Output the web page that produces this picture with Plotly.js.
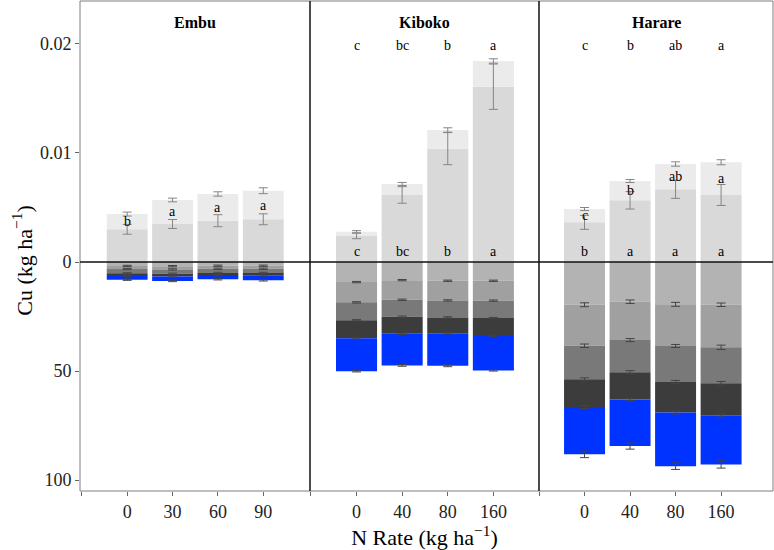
<!DOCTYPE html>
<html>
<head>
<meta charset="utf-8">
<script src="https://cdn.plot.ly/plotly-3.0.1.min.js"></script>
<style>html,body{margin:0;padding:0;background:#fff}#chart{width:774px;height:550px}</style>
</head>
<body>
<div id="chart"></div>
<script>
// ---------- DATA ----------
const panelNames = ['Embu', 'Kiboko', 'Harare'];
const embuRates = ['0', '30', '60', '90'];
const kibokoRates = ['0', '40', '80', '160'];
const harareRates = ['0', '40', '80', '160'];

// Upper part (Cu, kg/ha): lower stacked piece and bar total
const embuUpperBase = [0.00300, 0.00349, 0.00379, 0.00392];
const embuUpperBaseErr = [0.00045, 0.00041, 0.00055, 0.00050];
const embuUpperTotal = [0.00440, 0.00569, 0.00624, 0.00654];
const embuUpperTotalErr = [0.00018, 0.00017, 0.00020, 0.00027];

const kibokoUpperBase = [0.00239, 0.00615, 0.01040, 0.01608];
const kibokoUpperBaseErr = [0.00025, 0.00076, 0.00147, 0.00208];
const kibokoUpperTotal = [0.00278, 0.00716, 0.01211, 0.01844];
const kibokoUpperTotalErr = [0.00010, 0.00014, 0.00020, 0.00020];

const harareUpperBase = [0.00364, 0.00566, 0.00667, 0.00615];
const harareUpperBaseErr = [0.00064, 0.00080, 0.00083, 0.00096];
const harareUpperTotal = [0.00486, 0.00743, 0.00899, 0.00915];
const harareUpperTotalErr = [0.00014, 0.00014, 0.00020, 0.00023];

// Lower part (Cu, kg/ha): five stacked layers (rows) x N rates (cols)
const embuSoil = [
  [1.8, 1.9, 1.7, 1.7],
  [1.4, 1.5, 1.4, 1.4],
  [2.0, 2.0, 1.9, 1.9],
  [1.2, 1.2, 1.0, 1.1],
  [1.7, 2.1, 1.9, 2.3]
];
const embuSoilErr = [
  [0.3, 0.3, 0.3, 0.3],
  [0.3, 0.3, 0.3, 0.3],
  [0.3, 0.3, 0.3, 0.3],
  [0.3, 0.3, 0.3, 0.3],
  [0.3, 0.3, 0.3, 0.3]
];
const kibokoSoil = [
  [9.2, 8.3, 8.6, 8.6],
  [9.3, 9.0, 9.0, 9.1],
  [8.2, 7.8, 7.8, 8.0],
  [8.3, 7.8, 7.3, 8.2],
  [15.1, 14.5, 14.9, 15.8]
];
const kibokoSoilErr = [
  [0.3, 0.3, 0.3, 0.3],
  [0.3, 0.3, 0.3, 0.3],
  [0.3, 0.3, 0.3, 0.3],
  [0.3, 0.3, 0.3, 0.3],
  [0.3, 0.4, 0.4, 0.3]
];
const harareSoil = [
  [19.6, 18.2, 19.4, 19.6],
  [18.8, 17.6, 19.1, 19.5],
  [15.4, 14.8, 16.5, 16.5],
  [12.7, 12.4, 14.0, 14.7],
  [21.7, 21.4, 24.6, 22.5]
];
const harareSoilErr = [
  [0.9, 0.8, 0.9, 0.8],
  [0.8, 0.7, 0.7, 1.0],
  [0.7, 0.8, 0.7, 0.8],
  [0.7, 0.6, 0.7, 0.8],
  [1.5, 1.4, 1.5, 1.7]
];

// Significance letters
const kibokoTopLetters = ['c', 'bc', 'b', 'a'];
const kibokoBaseLetters = ['c', 'bc', 'b', 'a'];
const embuMidLetters = ['b', 'a', 'a', 'a'];
const harareTopLetters = ['c', 'b', 'ab', 'a'];
const harareMidLetters = ['c', 'b', 'ab', 'a'];
const harareBaseLetters = ['b', 'a', 'a', 'a'];
const letterTopCu = 0.0199;
const letterBaseCu = 0.00094;

// ---------- STYLE ----------
const SCALE = 5000; // upper Cu units -> shared axis units (0.01 <-> 50)
const FONT = '"Liberation Serif", serif';
const upperColors = ['#d9d9d9', '#ebebeb'];
const soilColors = ['#b3b3b3', '#a0a0a0', '#797979', '#3c3c3c', '#0033ff'];
const xpos = [1, 2, 3, 4];

const traces = [];
const annotations = [];

function addPanel(ax, rates, base, baseErr, total, totalErr, soil, soilErr, topL, midL, baseL) {
  const xa = ax === 1 ? 'x' : 'x' + ax;
  traces.push({type: 'bar', x: xpos, y: base.map(v => v * SCALE), xaxis: xa, yaxis: 'y',
    width: 0.9, marker: {color: upperColors[0], line: {width: 0}}, hoverinfo: 'skip'});
  traces.push({type: 'bar', x: xpos, y: total.map((v, i) => (v - base[i]) * SCALE), xaxis: xa, yaxis: 'y',
    width: 0.9, marker: {color: upperColors[1], line: {width: 0}}, hoverinfo: 'skip'});
  soil.forEach((layer, k) => {
    traces.push({type: 'bar', x: xpos, y: layer.map(v => -v), xaxis: xa, yaxis: 'y',
      width: 0.9, marker: {color: soilColors[k], line: {width: 0}}, hoverinfo: 'skip'});
  });
  const eb = (y, e, color) => ({type: 'scatter', mode: 'markers', x: xpos, y: y, xaxis: xa, yaxis: 'y',
    marker: {size: 1, opacity: 0}, hoverinfo: 'skip',
    error_y: {type: 'data', array: e, visible: true, color: color, thickness: 1, width: 4.5}});
  traces.push(eb(base.map(v => v * SCALE), baseErr.map(v => v * SCALE), '#858585'));
  traces.push(eb(total.map(v => v * SCALE), totalErr.map(v => v * SCALE), '#858585'));
  const cum = [0, 0, 0, 0];
  soil.forEach((layer, k) => {
    layer.forEach((v, i) => cum[i] += v);
    traces.push(eb(cum.map(v => -v), soilErr[k], '#444444'));
  });
  const lf = {family: FONT, size: 14, color: '#000'};
  if (topL) topL.forEach((t, i) => annotations.push({xref: xa, yref: 'y', x: xpos[i], y: letterTopCu * SCALE,
    yanchor: 'middle', text: t, showarrow: false, font: lf}));
  if (midL) midL.forEach((t, i) => annotations.push({xref: xa, yref: 'y', x: xpos[i],
    y: (base[i] + total[i]) / 2 * SCALE, yanchor: 'middle', text: t, showarrow: false, font: lf}));
  if (baseL) baseL.forEach((t, i) => annotations.push({xref: xa, yref: 'y', x: xpos[i], y: letterBaseCu * SCALE,
    yanchor: 'middle', text: t, showarrow: false, font: lf}));
}

addPanel(1, embuRates, embuUpperBase, embuUpperBaseErr, embuUpperTotal, embuUpperTotalErr,
  embuSoil, embuSoilErr, null, embuMidLetters, null);
addPanel(2, kibokoRates, kibokoUpperBase, kibokoUpperBaseErr, kibokoUpperTotal, kibokoUpperTotalErr,
  kibokoSoil, kibokoSoilErr, kibokoTopLetters, null, kibokoBaseLetters);
addPanel(3, harareRates, harareUpperBase, harareUpperBaseErr, harareUpperTotal, harareUpperTotalErr,
  harareSoil, harareSoilErr, harareTopLetters, harareMidLetters, harareBaseLetters);

const d1 = 230 / 693, d2 = 459 / 693;
const domains = [[0, d1], [d1, d2], [d2, 1]];
const ranges = [[-0.04, 5.03], [-0.02, 5.0], [0, 5.14]];
const rateSets = [embuRates, kibokoRates, harareRates];

panelNames.forEach((name, p) => {
  annotations.push({xref: 'paper', yref: 'paper', x: (domains[p][0] + domains[p][1]) / 2, y: 0.957,
    xanchor: 'center', yanchor: 'middle',
    text: '<b>' + name + '</b>', showarrow: false, font: {family: FONT, size: 16, color: '#000'}});
});

// y-axis title as rotated paper annotation
annotations.push({xref: 'paper', yref: 'paper', x: -58 / 693, y: 0.47, xanchor: 'center', yanchor: 'middle',
  textangle: -90, text: 'Cu (kg ha<sup>−1</sup>)', showarrow: false, font: {family: FONT, size: 22, color: '#000'}});

const tickFont = {family: FONT, size: 18, color: '#222'};
function xaxisDef(p) {
  return {
    domain: domains[p], range: ranges[p], anchor: 'y',
    tickmode: 'array', tickvals: [1, 2, 3, 4], ticktext: rateSets[p],
    ticks: 'outside', ticklen: 4, tickcolor: '#666', tickwidth: 1,
    minor: {tickmode: 'array', tickvals: [0], ticks: 'outside', ticklen: 4, tickcolor: '#666', tickwidth: 1, showgrid: false},
    showgrid: false, zeroline: false, showline: false, tickfont: tickFont, fixedrange: true
  };
}

const layout = {
  width: 774, height: 550,
  margin: {l: 80, r: 1, t: 1, b: 59},
  paper_bgcolor: '#fff', plot_bgcolor: '#fff',
  barmode: 'relative', bargap: 0.1,
  showlegend: false,
  font: {family: FONT, color: '#000'},
  xaxis: xaxisDef(0),
  xaxis2: Object.assign(xaxisDef(1), {title: {text: 'N Rate (kg ha<sup>−1</sup>)', font: {family: FONT, size: 22, color: '#000'}, standoff: 8}}),
  xaxis3: xaxisDef(2),
  yaxis: {
    range: [-105.0, 119.7], anchor: 'x',
    tickmode: 'array', tickvals: [100, 50, 0, -50, -100], ticktext: ['0.02', '0.01', '0', '50', '100'],
    ticks: 'outside', ticklen: 4, tickcolor: '#666', tickwidth: 1,
    showgrid: false, zeroline: false, showline: false, tickfont: tickFont, fixedrange: true
  },
  annotations: annotations,
  shapes: [
    {type: 'rect', xref: 'paper', yref: 'paper', x0: 0, x1: 1, y0: 0, y1: 1, line: {color: '#7f7f7f', width: 1}, layer: 'above'},
    {type: 'line', xref: 'paper', yref: 'paper', x0: d1, x1: d1, y0: 0, y1: 1, line: {color: '#111', width: 1.5}, layer: 'above'},
    {type: 'line', xref: 'paper', yref: 'paper', x0: d2, x1: d2, y0: 0, y1: 1, line: {color: '#111', width: 1.5}, layer: 'above'},
    {type: 'line', xref: 'paper', yref: 'y', x0: 0, x1: 1, y0: 0, y1: 0, line: {color: '#111', width: 1.5}, layer: 'above'}
  ]
};

Plotly.newPlot('chart', traces, layout, {staticPlot: true, displayModeBar: false});
</script>
</body>
</html>
